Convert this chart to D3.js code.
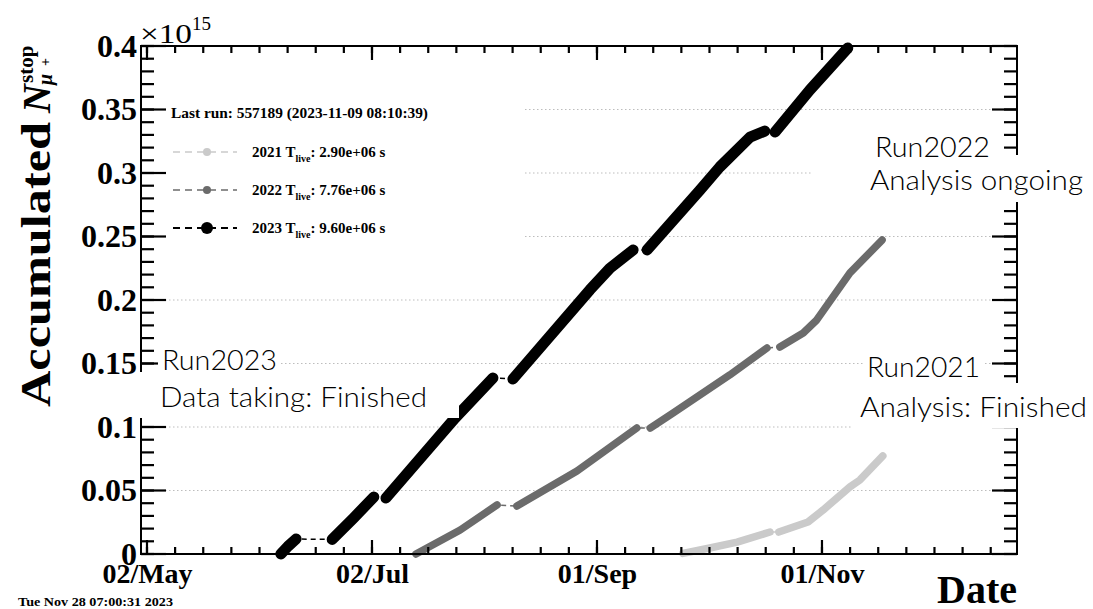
<!DOCTYPE html>
<html>
<head>
<meta charset="utf-8">
<script src="https://cdn.jsdelivr.net/npm/d3@7"></script>
<style>
  html, body { margin: 0; padding: 0; background: #fff; }
  svg { display: block; }
  .serif { font-family: "Liberation Serif", "Times New Roman", serif; font-weight: bold; }
  .plain { font-family: "Liberation Serif", "Times New Roman", serif; font-weight: normal; }
  .note { font-family: Lato, "Open Sans", sans-serif; font-weight: 300; }
</style>
</head>
<body>
<div id="chart"></div>
<script>
const parseTime = d3.utcParse("%Y-%m-%d %H:%M");
const parseDay = d3.utcParse("%Y-%m-%d");

// accumulated stopped muons (x1e15), one inner array per uninterrupted stretch of running
const run2021 = [
  [["2023-09-24 07:00", 0.0005], ["2023-10-01 14:00", 0.0047], ["2023-10-09 00:00", 0.0094], ["2023-10-17 22:00", 0.0173]],
  [["2023-10-20 07:00", 0.0173], ["2023-10-28 05:00", 0.0252], ["2023-11-01 07:00", 0.0346], ["2023-11-08 14:00", 0.0528],
   ["2023-11-11 07:00", 0.0583], ["2023-11-17 12:00", 0.0772]]
];
const run2022 = [
  [["2023-07-13 22:00", 0.0], ["2023-07-25 22:00", 0.0189], ["2023-08-04 22:00", 0.0386]],
  [["2023-08-10 07:00", 0.0378], ["2023-08-26 14:00", 0.0654], ["2023-09-11 19:00", 0.0992]],
  [["2023-09-15 10:00", 0.0992], ["2023-09-21 14:00", 0.111], ["2023-10-07 00:00", 0.141], ["2023-10-17 02:00", 0.1622]],
  [["2023-10-20 14:00", 0.163], ["2023-10-26 22:00", 0.174], ["2023-10-30 14:00", 0.1843], ["2023-11-08 14:00", 0.2213],
   ["2023-11-17 07:00", 0.2472]]
];
const run2023 = [
  [["2023-06-07 07:00", 0.0], ["2023-06-09 05:00", 0.006], ["2023-06-11 10:00", 0.0118]],
  [["2023-06-21 05:00", 0.0115], ["2023-06-27 00:00", 0.0283], ["2023-07-02 12:00", 0.0449]],
  [["2023-07-05 19:00", 0.0441], ["2023-07-24 12:00", 0.107], ["2023-08-03 19:00", 0.1386]],
  [["2023-08-09 05:00", 0.1378], ["2023-08-30 02:00", 0.208], ["2023-09-04 12:00", 0.225], ["2023-09-10 19:00", 0.2394]],
  [["2023-09-14 14:00", 0.2394], ["2023-09-28 22:00", 0.2866], ["2023-10-04 07:00", 0.3047], ["2023-10-12 12:00", 0.3283],
   ["2023-10-16 12:00", 0.333]],
  [["2023-10-19 07:00", 0.3323], ["2023-10-28 17:00", 0.3654], ["2023-11-08 00:00", 0.3984]]
];

const legendYears = ["2021", "2022", "2023"];
const legendLive = ["2.90e+06", "7.76e+06", "9.60e+06"];
const lastRun = "Last run: 557189 (2023-11-09 08:10:39)";
const stamp = "Tue Nov 28 07:00:31 2023";

const yTicks = [0, 0.05, 0.1, 0.15, 0.2, 0.25, 0.3, 0.35, 0.4];
const yTickLabels = ["0", "0.05", "0.1", "0.15", "0.2", "0.25", "0.3", "0.35", "0.4"];
const xMajorDates = ["2023-05-02", "2023-07-02", "2023-09-01", "2023-11-01", "2023-12-31"];
const xMajorLabels = ["02/May", "02/Jul", "01/Sep", "01/Nov", ""];

const notes = [
  ["Run2023", "Data taking: Finished"],
  ["Run2022", "Analysis ongoing"],
  ["Run2021", "Analysis: Finished"]
];

const W = 1093, H = 609;
const frame = {left: 141, right: 1017, top: 46, bottom: 554};

const svg = d3.select("#chart").append("svg").attr("width", W).attr("height", H);
svg.append("rect").attr("width", W).attr("height", H).attr("fill", "#fff");

const x = d3.scaleUtc()
    .domain([new Date(Date.UTC(2023, 3, 30, 9)), new Date(Date.UTC(2023, 11, 23, 21))])
    .range([frame.left, frame.right]);
const y = d3.scaleLinear().domain([0, 0.4]).range([frame.bottom, frame.top]);

// grid
svg.append("g").selectAll("line")
    .data(yTicks.slice(1, -1))
    .join("line")
    .attr("x1", frame.left).attr("x2", frame.right)
    .attr("y1", d => y(d)).attr("y2", d => y(d))
    .attr("stroke", "#bdbdbd").attr("stroke-width", 1).attr("stroke-dasharray", "1.5,2.5");

// series
const styles = [
  {segments: run2021, color: "#cacaca", width: 7.5, r: 4, dash: 1.3},
  {segments: run2022, color: "#6b6b6b", width: 7.5, r: 4, dash: 1.3},
  {segments: run2023, color: "#000", width: 11, r: 6, dash: 2.2}
];
const line = d3.line().x(d => x(parseTime(d[0]))).y(d => y(d[1]));

styles.forEach(s => {
  svg.append("path")
      .attr("d", line(s.segments.flat()))
      .attr("fill", "none").attr("stroke", s.color).attr("stroke-width", 1.5)
      .attr("stroke-dasharray", "5,4");
  svg.append("g").selectAll("path")
      .data(s.segments)
      .join("path")
      .attr("d", line)
      .attr("fill", "none").attr("stroke", s.color).attr("stroke-width", s.width)
      .attr("stroke-linecap", "round").attr("stroke-linejoin", "round");
});

// legend
svg.append("rect").attr("x", 148).attr("y", 90).attr("width", 375).attr("height", 165).attr("fill", "#fff");
svg.append("text").attr("class", "serif").attr("x", 171).attr("y", 118)
    .attr("font-size", 15).attr("textLength", 257).attr("lengthAdjust", "spacingAndGlyphs")
    .text(lastRun);

legendYears.forEach((yr, i) => {
  const s = styles[i];
  const ly = 152 + i * 38;
  svg.append("line").attr("x1", 173).attr("x2", 237).attr("y1", ly).attr("y2", ly)
      .attr("stroke", s.color).attr("stroke-width", s.dash).attr("stroke-dasharray", "7,5");
  svg.append("circle").attr("cx", 207).attr("cy", ly).attr("r", s.r).attr("fill", s.color);
  const t = svg.append("text").attr("class", "serif").attr("x", 252).attr("y", ly + 5).attr("font-size", 15);
  t.append("tspan").text(`${yr} T`);
  t.append("tspan").attr("font-size", 10).attr("dy", 5).text("live");
  t.append("tspan").attr("dy", -5).text(`: ${legendLive[i]} s`);
});

// frame and tick marks
svg.append("rect")
    .attr("x", frame.left).attr("y", frame.top)
    .attr("width", frame.right - frame.left).attr("height", frame.bottom - frame.top)
    .attr("fill", "none").attr("stroke", "#000").attr("stroke-width", 2);

const xMajor = xMajorDates.map(parseDay).filter(d => d <= x.domain()[1]);
const step = (parseDay(xMajorDates[1]) - parseDay(xMajorDates[0])) / 8;
const xMinor = d3.range(0, 33).map(k => new Date(+xMajor[0] + k * step)).filter(d => d <= x.domain()[1]);
const yMinor = d3.range(0, 41).map(k => k / 100);

const xt = xMinor.map(v => ({v, len: 7})).concat(xMajor.map(v => ({v, len: 14})));
const ytk = yMinor.map(v => ({v, len: 13})).concat(yTicks.map(v => ({v, len: 25})));

const tickG = svg.append("g");
tickG.selectAll(".xb").data(xt).join("line").attr("class", "xb")
    .attr("x1", d => x(d.v)).attr("x2", d => x(d.v))
    .attr("y1", frame.bottom).attr("y2", d => frame.bottom - d.len);
tickG.selectAll(".xt").data(xt).join("line").attr("class", "xt")
    .attr("x1", d => x(d.v)).attr("x2", d => x(d.v))
    .attr("y1", frame.top).attr("y2", d => frame.top + d.len);
tickG.selectAll(".yl").data(ytk).join("line").attr("class", "yl")
    .attr("y1", d => y(d.v)).attr("y2", d => y(d.v))
    .attr("x1", frame.left).attr("x2", d => frame.left + d.len);
tickG.selectAll(".yr").data(ytk).join("line").attr("class", "yr")
    .attr("y1", d => y(d.v)).attr("y2", d => y(d.v))
    .attr("x1", frame.right).attr("x2", d => frame.right - d.len);
tickG.selectAll("line").attr("stroke", "#000").attr("stroke-width", 2.2);

// labels through d3 axes
svg.append("g").attr("transform", `translate(0,${frame.bottom})`)
    .call(d3.axisBottom(x).tickValues(xMajor).tickSize(0).tickPadding(9).tickFormat((d, i) => xMajorLabels[i]))
    .call(g => g.select(".domain").remove())
    .call(g => g.selectAll("text").attr("class", "serif").attr("font-size", 28).attr("fill", "#000"));
svg.append("g").attr("transform", `translate(${frame.left},0)`)
    .call(d3.axisLeft(y).tickValues(yTicks).tickSize(0).tickPadding(4).tickFormat((d, i) => yTickLabels[i]))
    .call(g => g.select(".domain").remove())
    .call(g => g.selectAll("text").attr("class", "serif").attr("font-size", 32).attr("fill", "#000"));

// exponent
svg.append("text").attr("class", "plain")
    .attr("x", 140).attr("y", 43).attr("font-size", 28)
    .attr("textLength", 52).attr("lengthAdjust", "spacingAndGlyphs").text("×10");
svg.append("text").attr("class", "plain")
    .attr("x", 192).attr("y", 30).attr("font-size", 19).text("15");

// y title
const yt = svg.append("g").attr("class", "serif").attr("transform", "translate(50,407) rotate(-90)");
yt.append("text").attr("font-size", 42).attr("textLength", 285).attr("lengthAdjust", "spacingAndGlyphs").text("Accumulated");
yt.append("text").attr("x", 294).attr("font-size", 40).attr("font-style", "italic").text("N");
yt.append("text").attr("x", 324).attr("y", -17).attr("font-size", 21).text("stop");
yt.append("text").attr("x", 322).attr("y", 2).attr("font-size", 20).attr("font-style", "italic").text("μ");
yt.append("text").attr("x", 341).attr("y", 0).attr("font-size", 14).text("+");

// x title and time stamp
svg.append("text").attr("class", "serif").attr("x", 1017).attr("y", 603)
    .attr("text-anchor", "end").attr("font-size", 40).text("Date");
svg.append("text").attr("class", "serif").attr("x", 18).attr("y", 606)
    .attr("font-size", 12.5).attr("textLength", 155).attr("lengthAdjust", "spacingAndGlyphs").text(stamp);

// status notes, pasted on top with white backing
const noteBoxes = [
  [[158, 345, 122, 27], [136, 372, 323, 46]],
  [[872, 133, 120, 22], [812, 155, 281, 47]],
  [[863, 352, 122, 28], [853, 383, 240, 45]]
];
const noteText = [
  [[162, 370, 115], [160, 407, 267]],
  [[875, 157, 115], [870, 190, 213]],
  [[867, 377, 113], [860, 417, 227]]
];
notes.forEach((lines, i) => {
  noteBoxes[i].forEach(b => svg.append("rect")
      .attr("x", b[0]).attr("y", b[1]).attr("width", b[2]).attr("height", b[3]).attr("fill", "#fff"));
  lines.forEach((txt, j) => {
    const p = noteText[i][j];
    svg.append("text").attr("class", "note").attr("x", p[0]).attr("y", p[1])
        .attr("font-size", 28).attr("fill", "#000")
        .attr("textLength", p[2]).attr("lengthAdjust", "spacingAndGlyphs").text(txt);
  });
});
</script>
</body>
</html>
